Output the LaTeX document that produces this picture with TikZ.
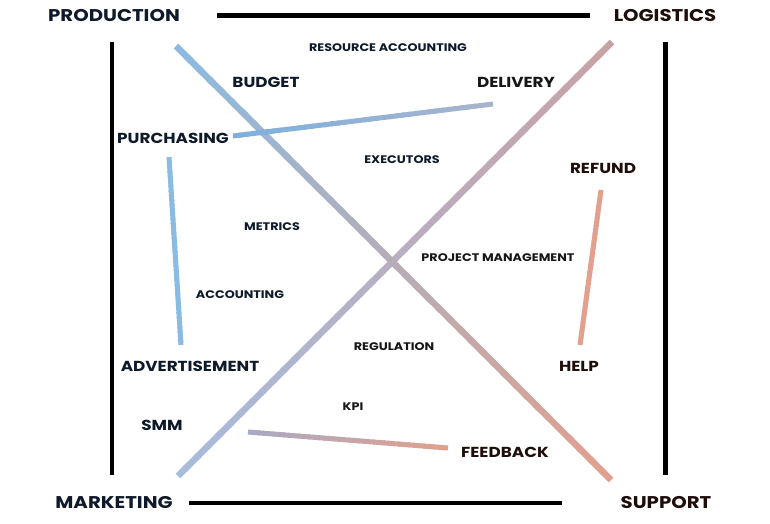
\documentclass[tikz,border=0pt]{standalone}
\usepackage{fontspec}
\setmainfont{Poppins}[FakeStretch=1.16]
\usetikzlibrary{calc}
\definecolor{navy}{HTML}{0E1A2A}
\definecolor{ink}{HTML}{161616}
\definecolor{rust}{HTML}{1E0E0B}
\definecolor{cBlue}{HTML}{8ABBE2}
\definecolor{cBlueB}{HTML}{7DB0DE}
\definecolor{cGreyBlue}{HTML}{A8B4CC}
\definecolor{cSalmon}{HTML}{E2A08E}
\definecolor{cRose}{HTML}{C8A2A6}
\definecolor{cPale}{HTML}{A8BCDC}
\definecolor{cLav}{HTML}{A8AAC4}
\tikzset{
  big/.style={font=\bfseries\fontsize{17}{20}\selectfont, inner sep=0pt},
  mid/.style={font=\bfseries\fontsize{14.5}{16}\selectfont, inner sep=0pt},
  small/.style={font=\bfseries\fontsize{11}{13}\selectfont, inner sep=0pt},
  frame/.style={line width=4.5pt, black, line cap=butt},
}
\newcommand\gline[5]{%
  \foreach \i in {0,...,39}{%
    \pgfmathsetmacro\ta{\i/40}%
    \pgfmathsetmacro\tb{min((\i+1.4)/40,1)}%
    \pgfmathtruncatemacro\pc{100-(\i+0.5)*2.5}%
    \draw[line width=#5, line cap=butt, color=#3!\pc!#4] ($(#1)!\ta!(#2)$) -- ($(#1)!\tb!(#2)$);
  }}
\begin{document}
\begin{tikzpicture}[x=1pt,y=-1pt]
\useasboundingbox (0,0) rectangle (770,524);
% frame line ends
\coordinate (t1) at (217,15.3); \coordinate (t2) at (590,15.3);
\coordinate (l1) at (112,42);  \coordinate (l2) at (112,475);
\coordinate (r1) at (665.5,42); \coordinate (r2) at (665.5,475);
\coordinate (b1) at (189,503); \coordinate (b2) at (562,503);
\draw[frame] (t1) -- (t2);
\draw[frame] (l1) -- (l2);
\draw[frame] (r1) -- (r2);
\draw[frame] (b1) -- (b2);
% gradient connectors
\coordinate (d1a) at (176,46);  \coordinate (d1b) at (611,480);
\coordinate (d2a) at (612,42);  \coordinate (d2b) at (178,476);
\coordinate (pda) at (233,136); \coordinate (pdb) at (493,104);
\coordinate (paa) at (169,157); \coordinate (pab) at (181,345);
\coordinate (rha) at (601,190); \coordinate (rhb) at (580,345);
\coordinate (kfa) at (248,432); \coordinate (kfb) at (448,448);
\gline{d2a}{d2b}{cRose}{cPale}{6.5pt}
\gline{d1a}{d1b}{cBlue}{cSalmon}{6.5pt}
\gline{pda}{pdb}{cBlueB}{cGreyBlue}{5pt}
\gline{paa}{pab}{cBlue}{cBlue}{5pt}
\gline{rha}{rhb}{cSalmon}{cSalmon}{5pt}
\gline{kfa}{kfb}{cLav}{cSalmon}{5pt}
% labels
\node[big, navy] (production) at (114,16) {PRODUCTION};
\node[big, rust] (logistics) at (665,16) {LOGISTICS};
\node[big, navy] (marketing) at (114,503) {MARKETING};
\node[big, rust] (support) at (666,503) {SUPPORT};
\node[small, navy] (resacc) at (388,48) {RESOURCE ACCOUNTING};
\node[mid, navy] (budget) at (266,82) {BUDGET};
\node[mid, ink] (delivery) at (516,82) {DELIVERY};
\node[mid, navy] (purchasing) at (173,138) {PURCHASING};
\node[small, navy] (executors) at (402,160) {EXECUTORS};
\node[mid, rust] (refund) at (603,168) {REFUND};
\node[small, navy] (metrics) at (272,227) {METRICS};
\node[small, ink] (pm) at (498,258) {PROJECT MANAGEMENT};
\node[small, navy] (accounting) at (240,295) {ACCOUNTING};
\node[small, ink] (regulation) at (394,347) {REGULATION};
\node[mid, navy] (advert) at (190,366) {ADVERTISEMENT};
\node[mid, rust] (help) at (579,366) {HELP};
\node[small, ink] (kpi) at (353,407) {KPI};
\node[mid, navy] (smm) at (162,425) {SMM};
\node[mid, rust] (feedback) at (505,452) {FEEDBACK};
\end{tikzpicture}
\end{document}
